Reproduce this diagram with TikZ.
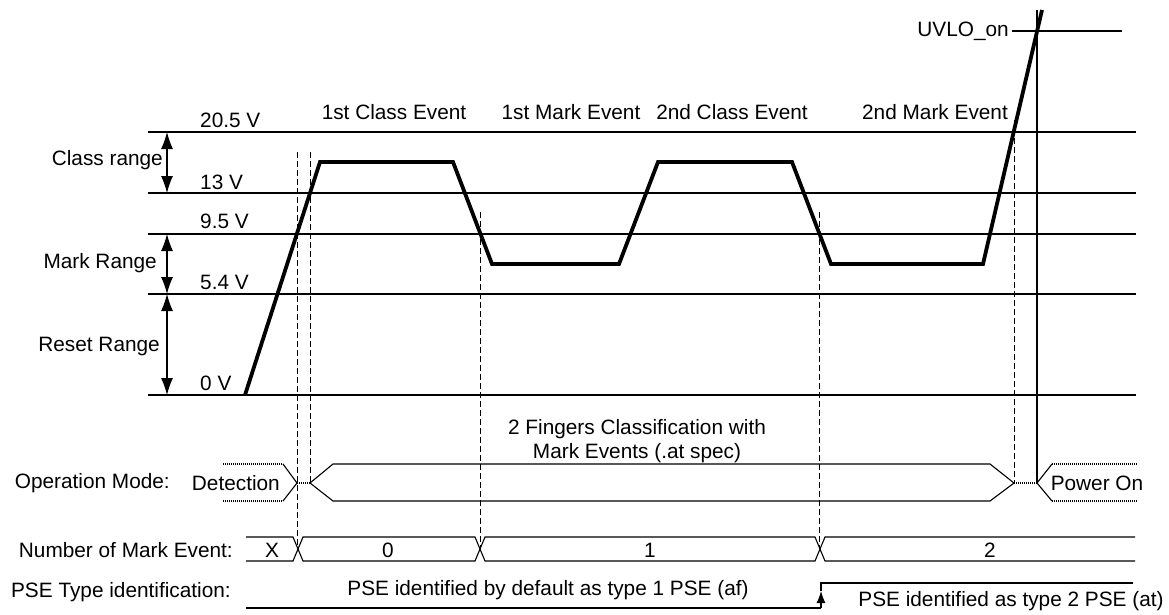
\documentclass[tikz,border=0pt]{standalone}
\usepackage{fontspec}
\setmainfont{Liberation Sans}
\usetikzlibrary{arrows.meta}
\begin{document}
\begin{tikzpicture}[x=1pt,y=-1pt,
  lbl/.style={inner sep=0pt, font=\fontsize{20.8}{23.5}\selectfont},
  level/.style={line width=1.2pt},
  wave/.style={line width=3.8pt, line join=miter},
  guide/.style={line width=1pt, dash pattern=on 6pt off 3pt},
  thinline/.style={line width=1.1pt},
  dots/.style={line width=2pt, dash pattern=on 1.2pt off 0.8pt},
  rng/.style={line width=1.1pt, {Latex[length=17pt,width=12pt]}-{Latex[length=17pt,width=12pt]}},
  uparrow/.style={line width=1.1pt, -{Latex[length=12pt,width=9pt]}}
]
\useasboundingbox (0,0) rectangle (1169,614);

% level lines
\foreach \n/\y in {a/132,b/193,c/234,d/294,e/395}{
  \coordinate (\n L) at (148,\y);
  \coordinate (\n R) at (1136,\y);
  \draw[level] (\n L) -- (\n R);
}

% voltage labels
\node[lbl,anchor=west] (v205) at (200,120) {20.5 V};
\node[lbl,anchor=west] (v13) at (200,182) {13 V};
\node[lbl,anchor=west] (v95) at (200,221) {9.5 V};
\node[lbl,anchor=west] (v54) at (200,282) {5.4 V};
\node[lbl,anchor=west] (v0) at (200,383) {0 V};

% range arrows
\coordinate (ra1) at (167,132); \coordinate (ra2) at (167,193);
\coordinate (rb1) at (167,234); \coordinate (rb2) at (167,294);
\coordinate (rc1) at (167,294); \coordinate (rc2) at (167,395);
\draw[rng] (ra1) -- (ra2);
\draw[rng] (rb1) -- (rb2);
\draw[rng] (rc1) -- (rc2);
\node[lbl,anchor=east] (classr) at (163,160) {Class range};
\node[lbl,anchor=east] (markr) at (157,263) {Mark Range};
\node[lbl,anchor=east] (resetr) at (160,346) {Reset Range};

% event labels
\node[lbl] (ev1) at (394,112) {1st Class Event};
\node[lbl] (ev2) at (571,112) {1st Mark Event};
\node[lbl] (ev3) at (732,112) {2nd Class Event};
\node[lbl] (ev4) at (935,112) {2nd Mark Event};

% UVLO
\coordinate (uvL) at (1012,31);
\coordinate (uvR) at (1122,31);
\draw[thinline] (uvL) -- (uvR);
\node[lbl,anchor=east] (uvlo) at (1009,31) {UVLO\_on};

% guides
\draw[guide] (297,152) -- (297,548);
\draw[guide] (310,152) -- (310,483);
\draw[guide] (480,212) -- (480,548);
\draw[guide] (819,212) -- (819,548);
\draw[guide] (1014,120) -- (1014,483);
\draw[thinline] (1037,10) -- (1037,483);

% waveform
\draw[wave] (245,395) -- (320,162) -- (453,162) -- (492,264) -- (619,264)
  -- (658,162) -- (792,162) -- (831,264) -- (983,264) -- (1042,10);

% operation mode
\node[lbl,anchor=east] (opm) at (170,483) {Operation Mode:};
\node[lbl,anchor=east] (det) at (280,483) {Detection};
\node[lbl] (pon) at (1097,483) {Power On};
\node[lbl,align=center] (fing) at (637,441) {2 Fingers Classification with\\Mark Events (.at spec)};
\draw[dots] (223,464) -- (283,464);
\draw[dots] (223,501) -- (283,501);
\draw[thinline] (283,464) -- (297,483) -- (283,501);
\draw[dots] (297,483) -- (310,483);
\draw[thinline] (333,464) -- (310,483) -- (333,501) -- (990,501) -- (1014,483) -- (990,464) -- cycle;
\draw[dots] (1014,483) -- (1037,483);
\draw[thinline] (1052,464) -- (1037,483) -- (1052,501);
\draw[dots] (1052,464) -- (1137,464);
\draw[dots] (1052,501) -- (1137,501);

% number of mark event row
\node[lbl,anchor=east] (nme) at (233,550) {Number of Mark Event:};
\draw[thinline] (246,537) -- (293,537) -- (303,561) -- (475,561) -- (485,537) -- (815,537) -- (825,561) -- (1135,561);
\draw[thinline] (246,561) -- (293,561) -- (303,537) -- (475,537) -- (485,561) -- (815,561) -- (825,537) -- (1135,537);
\node[lbl] (nx) at (272,550) {X};
\node[lbl] (n0) at (388,550) {0};
\node[lbl] (n1) at (650,550) {1};
\node[lbl] (n2) at (990,550) {2};

% PSE row
\node[lbl,anchor=east] (pset) at (231,592) {PSE Type identification:};
\coordinate (p1) at (246,608);
\coordinate (p2) at (821,608);
\coordinate (p3) at (821,591);
\coordinate (p4) at (821,583);
\coordinate (p5) at (1133,583);
\draw[thinline] (p1) -- (p2);
\draw[uparrow] (p2) -- (p3);
\draw[thinline] (p3) -- (p4) -- (p5);
\node[lbl] (pse1) at (548,590) {PSE identified by default as type 1 PSE (af)};
\node[lbl] (pse2) at (1011,601) {PSE identified as type 2 PSE (at)};
\end{tikzpicture}
\end{document}
